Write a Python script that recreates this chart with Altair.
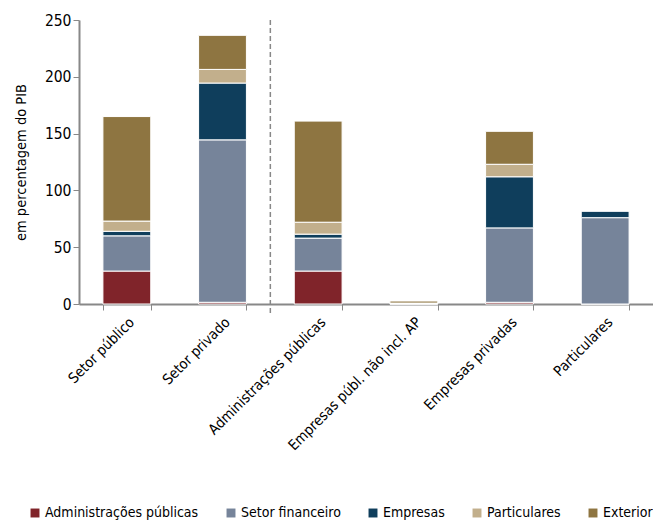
import altair as alt
import pandas as pd

categories = ["Setor público", "Setor privado", "Administrações públicas",
              "Empresas públ. não incl. AP", "Empresas privadas", "Particulares"]
series = ["Administrações públicas", "Setor financeiro", "Empresas", "Particulares", "Exterior"]
colors = ["#80242A", "#76849A", "#0F3E5C", "#C2AF8C", "#8E7541"]

admin_publicas = [29, 1.5, 29, 0, 1.5, 0]
setor_financeiro = [31, 143, 29, 0.8, 65.5, 76]
empresas = [4, 50, 3.5, 0, 45, 6]
particulares = [9, 12, 10.5, 0, 11, 0]
exterior = [92, 30, 89, 1.8, 29, 0]

vals = [admin_publicas, setor_financeiro, empresas, particulares, exterior]
rows = []
for si, (s, v) in enumerate(zip(series, vals)):
    for c, x in zip(categories, v):
        rows.append({"cat": c, "serie": s, "valor": x, "ord": si})
df = pd.DataFrame(rows)

W, H = 574, 284
FONT = "DejaVu Sans Condensed"

bars = alt.Chart(df).mark_bar(stroke="white", strokeWidth=1).encode(
    x=alt.X("cat:N", sort=categories,
            scale=alt.Scale(paddingInner=0.5, paddingOuter=0.25),
            axis=alt.Axis(title=None, labelAngle=315, labelAlign="right", labelBaseline="top",
                          labelFontSize=14.5, labelFont=FONT, labelColor="#000", labelLimit=0,
                          tickBand="extent", tickSize=6, tickColor="#888",
                          domainColor="#888", domainWidth=2, labelPadding=5)),
    y=alt.Y("valor:Q", stack="zero",
            scale=alt.Scale(domain=[0, 250]),
            axis=alt.Axis(values=[0, 50, 100, 150, 200, 250], grid=False,
                          title="em percentagem do PIB", titleFont=FONT, titleFontSize=14.5,
                          titleFontWeight="normal", titleColor="#000", titlePadding=16,
                          labelFont=FONT, labelFontSize=15.5, labelColor="#000",
                          tickSize=6, tickColor="#888", domainColor="#888", domainWidth=2)),
    color=alt.Color("serie:N", sort=series,
                    scale=alt.Scale(domain=series, range=colors),
                    legend=alt.Legend(title=None, orient="none", direction="horizontal",
                                      legendX=-51, legendY=H + 202,
                                      symbolType="square", symbolSize=80, symbolStrokeWidth=0,
                                      labelFont=FONT, labelFontSize=14, labelColor="#000",
                                      labelLimit=0, columnPadding=25, symbolOffset=0,
                                      labelOffset=3)),
    order=alt.Order("ord:Q"),
)

sep = alt.Chart(pd.DataFrame({"a": [0]})).mark_rule(
    color="#888", strokeDash=[5, 3], strokeWidth=1.5).encode(
    x=alt.value(W / 6 * 2), y=alt.value(0), y2=alt.value(H + 12))

chart = alt.layer(bars, sep).properties(
    width=W, height=H,
    autosize=alt.AutoSizeParams(type="none"),
    padding={"left": 71, "top": 12, "right": 0, "bottom": 230},
).configure(background="white", view=alt.ViewConfig(stroke=None))

chart.save("out.html", embed_options={"renderer": "svg", "actions": False})
